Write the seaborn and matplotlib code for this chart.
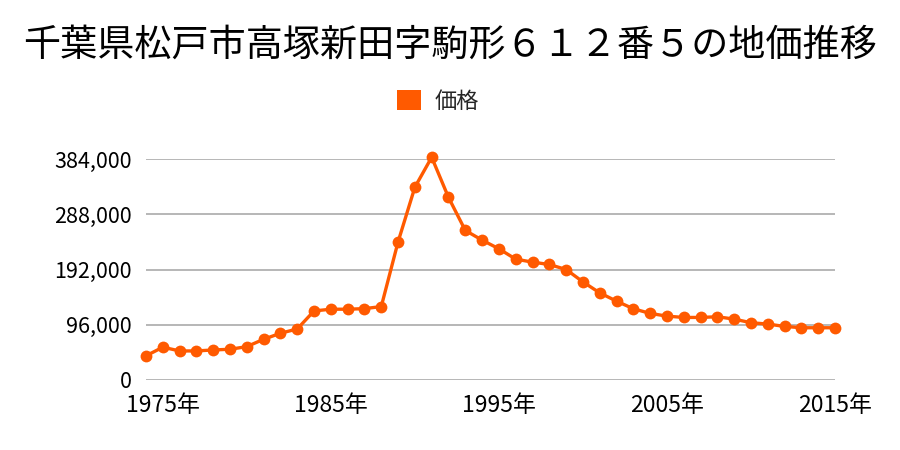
import matplotlib
matplotlib.use("Agg")
import matplotlib.pyplot as plt
import seaborn as sns
import pandas as pd
from matplotlib.patches import Patch
from matplotlib.ticker import FuncFormatter

years = list(range(1974, 2016))
prices = [42000, 57000, 50500, 50500, 52200, 53400, 58000, 70800, 81200, 88700,
          120000, 123000, 123000, 124000, 127600, 240000, 335000, 387000,
          317300, 259900, 243000, 228000, 210000, 204800, 200700, 192000,
          170500, 151400, 137000, 123800, 115700, 111000, 108700, 108700,
          109900, 105800, 99500, 97200, 93100, 90800, 90800, 90800]
yticks = [0, 96000, 192000, 288000, 384000]
xticks = [1975, 1985, 1995, 2005, 2015]
xticklabels = ["1975年", "1985年", "1995年", "2005年", "2015年"]
title = "千葉県松戸市高塚新田字駒形６１２番５の地価推移"
series_name = "価格"

color = "#ff5a00"

sns.set_style("white")
plt.rcParams['font.family'] = ['Noto Sans CJK JP', 'DejaVu Sans']

df = pd.DataFrame({"year": years, "price": prices})

fig = plt.figure(figsize=(9, 4.5), dpi=100)
ax = fig.add_axes([146/900, 70/450, 689/900, 221/450])
sns.lineplot(data=df, x="year", y="price", ax=ax, color=color, marker="o",
             markersize=8.5, markeredgewidth=0, linewidth=2.4, clip_on=False,
             legend=False)

ax.set_xlim(1974, 2015)
ax.set_ylim(0, 384000)
ax.set_yticks(yticks)
ax.yaxis.set_major_formatter(FuncFormatter(lambda v, p: f"{int(v):,}"))
ax.set_xticks(xticks)
ax.set_xticklabels(xticklabels)
ax.grid(axis="y", color="#aaaaaa", linewidth=1.2)
ax.grid(axis="x", visible=False)
for s in ax.spines.values():
    s.set_visible(False)
ax.tick_params(axis="both", length=0, colors="black")
ax.tick_params(axis="y", pad=10, labelsize=15.5)
ax.tick_params(axis="x", pad=10, labelsize=16.5)
ax.set_xlabel("")
ax.set_ylabel("")

fig.suptitle(title, x=0.5, y=1 - 45/450, va="center", fontsize=26.7, color="black")

handle = Patch(facecolor=color, edgecolor="none")
fig.legend([handle], [series_name], loc="center", bbox_to_anchor=(438/900, 1 - 101/450),
           frameon=False, fontsize=16, handlelength=1.05, handleheight=1.05,
           handletextpad=0.6, borderpad=0, borderaxespad=0)

fig.savefig("out.png", dpi=100)
